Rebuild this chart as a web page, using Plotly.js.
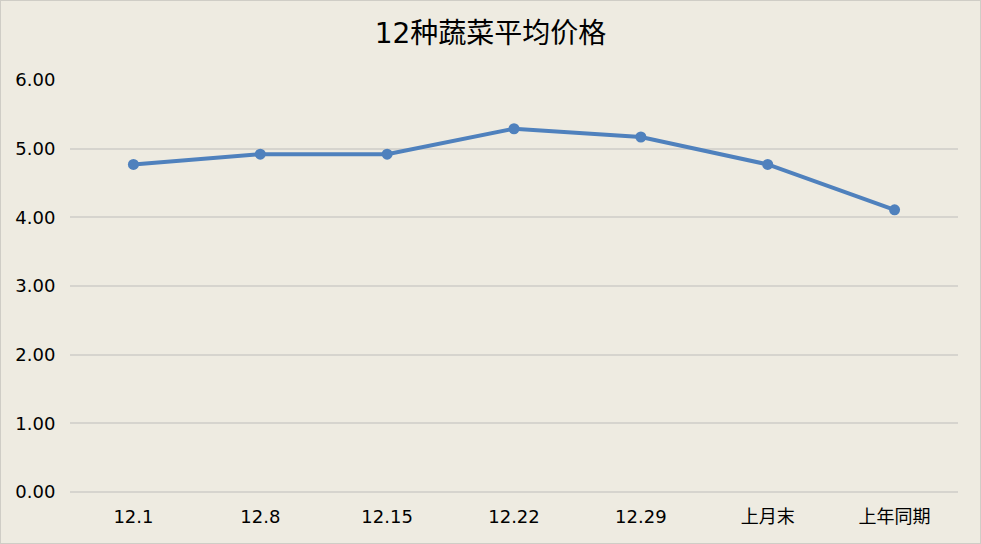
<!DOCTYPE html>
<html>
<head>
<meta charset="utf-8">
<script src="https://cdn.plot.ly/plotly-3.0.1.min.js"></script>
<style>
  html, body { margin: 0; padding: 0; background: #EEEBE1; }
  #myDiv { width: 981px; height: 544px; box-sizing: border-box; border: 1px solid #cfcdc6; }
</style>
</head>
<body>
<div id="myDiv"></div>
<script>
// weekly dates plus two comparison points
var categories = ['12.1', '12.8', '12.15', '12.22', '12.29', '上月末', '上年同期'];
var prices = [4.77, 4.92, 4.92, 5.29, 5.17, 4.77, 4.11];
var yTicks = [0, 1, 2, 3, 4, 5, 6];

var trace1 = {
    x: categories,
    y: prices,
    type: 'scatter',
    mode: 'lines+markers',
    line: { color: '#4F81BD', width: 4 },
    marker: { color: '#4F81BD', size: 11 },
    hoverinfo: 'x+y'
};

var layout = {
    width: 979,
    height: 542,
    paper_bgcolor: '#EEEBE1',
    plot_bgcolor: '#EEEBE1',
    showlegend: false,
    margin: { l: 69, r: 22, t: 79, b: 51 },
    font: { family: 'DejaVu Sans, Noto Sans CJK SC', color: '#000' },
    // centred on the whole picture, not the plot area
    title: {
        text: '12种蔬菜平均价格',
        font: { family: 'DejaVu Sans, Noto Sans CJK SC', size: 28, color: '#000' },
        x: 0.5,
        xref: 'container',
        y: 0.94,
        yref: 'container',
        yanchor: 'middle'
    },
    xaxis: {
        type: 'category',
        range: [-0.5, 6.5],
        showgrid: false,
        showline: false,
        zeroline: false,
        ticks: 'outside',
        ticklen: 8,
        tickcolor: 'rgba(0,0,0,0)',
        tickfont: { size: 18, family: 'DejaVu Sans, Noto Sans CJK SC' },
        fixedrange: true
    },
    yaxis: {
        range: [0, 6],
        tickvals: yTicks,
        tickformat: '.2f',
        showgrid: true,
        gridcolor: '#D6D4CE',
        gridwidth: 1.5,
        zeroline: true,
        zerolinecolor: '#D6D4CE',
        zerolinewidth: 1.5,
        showline: false,
        ticks: 'outside',
        ticklen: 10,
        tickcolor: 'rgba(0,0,0,0)',
        tickfont: { size: 18, family: 'DejaVu Sans' },
        fixedrange: true
    }
};

Plotly.newPlot('myDiv', [trace1], layout, { displayModeBar: false });
</script>
</body>
</html>
